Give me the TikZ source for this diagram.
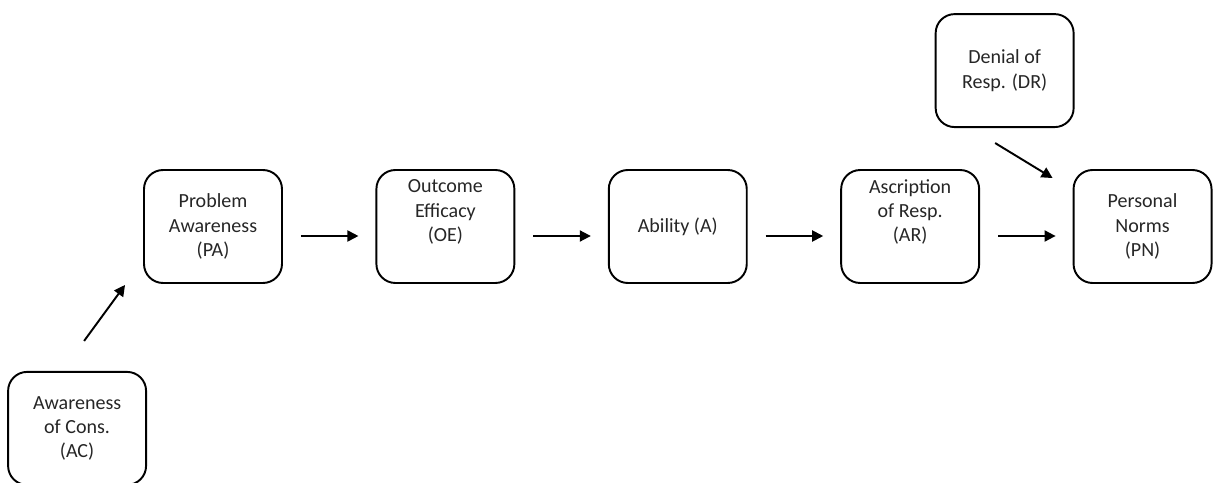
\documentclass[tikz,border=0pt]{standalone}
\usepackage{fontspec}
\setmainfont{Carlito}
\usepackage{xcolor}
\usepackage{tikz}
\usetikzlibrary{arrows.meta,positioning}

\begin{document}
\begin{tikzpicture}[
    x=0.02cm, y=-0.02cm,
    >={Triangle[length=0.22cm,width=0.22cm]},
    node distance=1.85cm,
    factor/.style={draw, line width=1.1pt, rounded corners=0.38cm,
        minimum width=2.76cm, minimum height=2.26cm,
        align=center, text=black!85,
        font=\fontsize{11.4}{13.9}\selectfont},
    flow/.style={->, line width=1.1pt}
]
\useasboundingbox (0,0) rectangle (1214,483);

% main chain
\node[factor] (PA) at (213,226.5) {Problem\\Awareness\\(PA)};
\node[factor, right=of PA] (OE) {Outcome\\Efficacy\\(OE)\\\strut};
\node[factor, right=of OE] (A) {Ability (A)};
\node[factor, right=of A] (AR) {Ascription\\of Resp.\\(AR)\\\strut};
\node[factor, right=of AR] (PN) {Personal\\Norms\\(PN)};

% side factors
\node[factor, below left=1.74cm and -0.08cm of PA] (AC) {Awareness\\of Cons.\\(AC)};
\node[factor, above left=0.82cm and -0.04cm of PN] (DR) {Denial of\\Resp. (DR)};

\draw[flow, shorten <=0.36cm, shorten >=0.34cm] ([yshift=-0.19cm]PA.east) -- ([yshift=-0.19cm]OE.west);
\draw[flow, shorten <=0.36cm, shorten >=0.34cm] ([yshift=-0.19cm]OE.east) -- ([yshift=-0.19cm]A.west);
\draw[flow, shorten <=0.36cm, shorten >=0.34cm] ([yshift=-0.19cm]A.east) -- ([yshift=-0.19cm]AR.west);
\draw[flow, shorten <=0.36cm, shorten >=0.34cm] ([yshift=-0.19cm]AR.east) -- ([yshift=-0.19cm]PN.west);
\draw[flow] ([xshift=0.14cm,yshift=0.6cm]AC.north) -- ([xshift=-0.36cm,yshift=-0.02cm]PA.south west);
\draw[flow] ([xshift=-0.19cm,yshift=-0.3cm]DR.south) -- ([xshift=-0.4cm,yshift=-0.18cm]PN.north west);
\end{tikzpicture}
\end{document}
